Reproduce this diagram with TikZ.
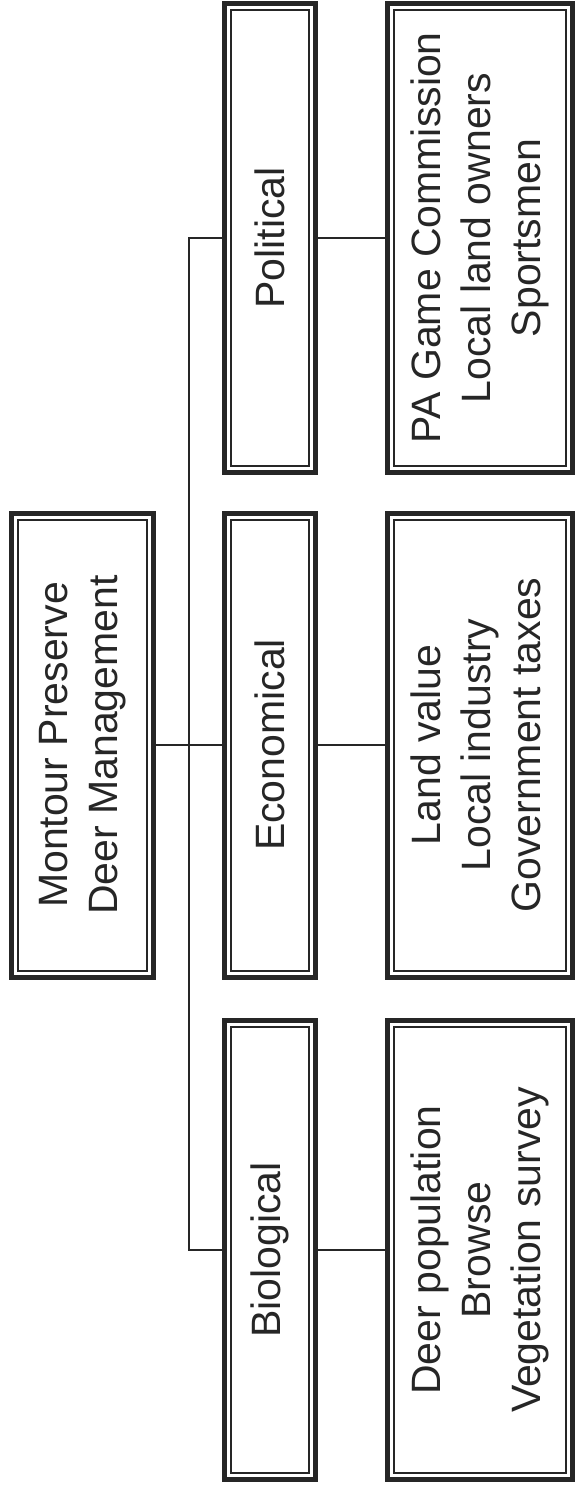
\documentclass[tikz,border=0pt]{standalone}
\usepackage{fontspec}
\setmainfont{Liberation Sans}
\definecolor{ink}{RGB}{38,38,38}
\tikzset{
  box/.style={draw=ink, line width=5pt, inner sep=0pt, text=ink,
    font=\fontsize{41}{50}\selectfont,
    path picture={\draw[ink,line width=2pt]
      ([shift={(6.5pt,6.5pt)}]path picture bounding box.south west) rectangle
      ([shift={(-6.5pt,-6.5pt)}]path picture bounding box.north east);}},
  catw/.style={minimum width=91pt},
  detw/.style={minimum width=185pt},
  conn/.style={draw=ink, line width=1.6pt}}
\begin{document}
\begin{tikzpicture}[x=1pt,y=1pt]
\fill[white] (0,0) rectangle (577,-1489);
\useasboundingbox (0,0) rectangle (577,-1489);
% root
\node[box, minimum width=142pt, minimum height=464pt] (root) at (82.5,-745)
  {\rotatebox{90}{\begin{tabular}{@{}c@{}}Montour Preserve\\Deer Management\end{tabular}}};
% categories
\node[box, catw, minimum height=469pt] (polc) at (270,-238) {\rotatebox{90}{Political}};
\node[box, catw, minimum height=464pt] (econc) at (270,-745) {\rotatebox{90}{Economical}};
\node[box, catw, minimum height=459pt] (bioc) at (270,-1250) {\rotatebox{90}{Biological}};
% details
\node[box, detw, minimum height=469pt] (pold) at (480,-238)
  {\rotatebox{90}{\begin{tabular}{@{}c@{}}PA Game Commission\\Local land owners\\Sportsmen\end{tabular}}};
\node[box, detw, minimum height=464pt] (econd) at (480,-745)
  {\rotatebox{90}{\begin{tabular}{@{}c@{}}Land value\\Local industry\\Government taxes\end{tabular}}};
\node[box, detw, minimum height=459pt] (biod) at (480,-1250)
  {\rotatebox{90}{\begin{tabular}{@{}c@{}}Deer population\\Browse\\Vegetation survey\end{tabular}}};
% connectors
\draw[conn] (root.east) -- (econc.west);
\draw[conn] (polc.west) -- ++(-33,0) |- (bioc.west);
\draw[conn] (polc.east) -- (pold.west);
\draw[conn] (econc.east) -- (econd.west);
\draw[conn] (bioc.east) -- (biod.west);
\end{tikzpicture}
\end{document}
